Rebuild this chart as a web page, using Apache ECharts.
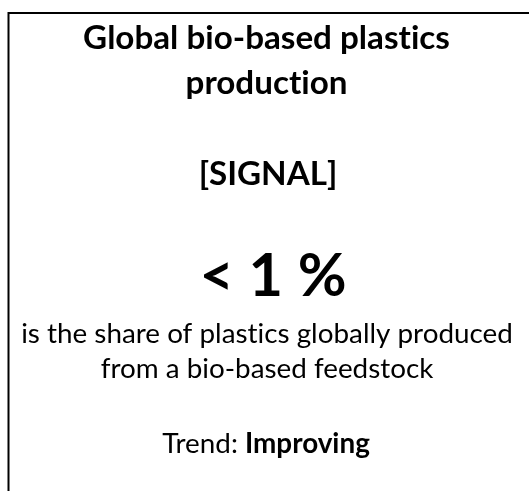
<!DOCTYPE html>
<html><head><meta charset="utf-8">
<script src="https://cdn.jsdelivr.net/npm/echarts@6/dist/echarts.min.js"></script>
<style>html,body{margin:0;padding:0;background:#fff}#c{width:529px;height:491px}</style>
</head><body><div id="c"></div>
<script>
// ---- content ----
const titleLines = ['Global bio-based plastics', 'production'];
const signalLabel = '[SIGNAL]';
const headlineValue = '< 1 %';
const descriptionLines = ['is the share of plastics globally produced', 'from a bio-based feedstock'];
const trendLabel = 'Trend: ';
const trendValue = 'Improving';

// ---- layout / style ----
const FONT = 'Lato, "Open Sans", sans-serif';
// break Lato's "ti"/"ft" style ligatures so glyphs render as separate letters
const noLig = s => s.replace(/t(?=i)/g, 't\u200C').replace(/f(?=[fil])/g, 'f\u200C');
const ctx = document.createElement('canvas').getContext('2d');
function fit(text, weight, target) {
  ctx.font = weight + ' 100px ' + FONT;
  return 100 * target / ctx.measureText(noLig(text)).width;
}
function midOffset(weight) {
  ctx.font = weight + ' 100px ' + FONT;
  ctx.textBaseline = 'alphabetic';
  const a = ctx.measureText('H').actualBoundingBoxAscent;
  ctx.textBaseline = 'middle';
  const m = ctx.measureText('H').actualBoundingBoxAscent;
  ctx.textBaseline = 'alphabetic';
  return (a - m) / 100;
}
const titleSize = fit(titleLines[0], 'bold', 367);
const bodySize = fit(descriptionLines[0], 'normal', 492);
const bigSize = fit(headlineValue, 'bold', 147);
const offB = midOffset('bold'), offN = midOffset('normal');

function txt(text, cx, baseline, size, weight, off) {
  return {
    type: 'text', silent: true,
    style: {
      text: noLig(text), x: cx, y: baseline - off * size,
      fill: '#000', font: weight + ' ' + size + 'px ' + FONT,
      textAlign: 'center', textVerticalAlign: 'middle', align: 'center', verticalAlign: 'middle'
    }
  };
}

const chart = echarts.init(document.getElementById('c'), null, {renderer: 'canvas'});
chart.setOption({
  backgroundColor: '#fff',
  animation: false,
  graphic: [
    { type: 'polyline', silent: true,
      shape: { points: [[8.5, 491], [8.5, 13], [529, 13]] },
      style: { stroke: '#000', lineWidth: 2, fill: null } },
    txt(titleLines[0], 266.5, 49, titleSize, 'bold', offB),
    txt(titleLines[1], 266.5, 94, titleSize, 'bold', offB),
    txt(signalLabel, 268, 185, titleSize, 'bold', offB),
    txt(headlineValue, 273, 296, bigSize, 'bold', offB),
    txt(descriptionLines[0], 267, 343, bodySize, 'normal', offN),
    txt(descriptionLines[1], 267, 378, bodySize, 'normal', offN),
    { type: 'text', silent: true,
      style: {
        text: '{n|' + trendLabel + '}{b|' + trendValue + '}',
        x: 266, y: 453 - offN * bodySize,
        fill: '#000', font: 'normal ' + bodySize + 'px ' + FONT,
        textAlign: 'center', textVerticalAlign: 'middle', align: 'center', verticalAlign: 'middle',
        rich: {
          n: { fontFamily: FONT, fontWeight: 'normal', fontSize: bodySize, fill: '#000', color: '#000' },
          b: { fontFamily: FONT, fontWeight: 'bold', fontSize: bodySize, fill: '#000', color: '#000' }
        }
      } }
  ]
});
</script></body></html>
